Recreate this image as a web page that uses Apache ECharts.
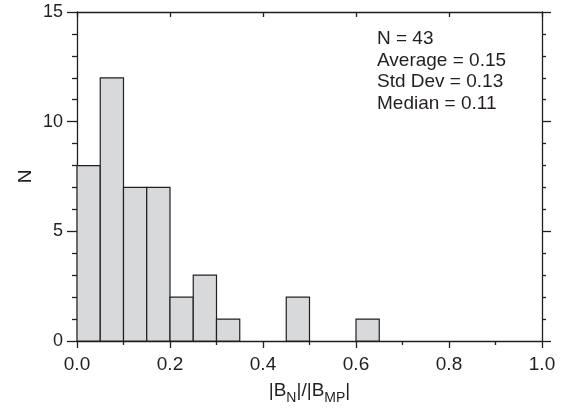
<!DOCTYPE html>
<html>
<head>
<meta charset="utf-8">
<script src="https://cdn.jsdelivr.net/npm/echarts@6/dist/echarts.min.js"></script>
<style>
html,body{margin:0;padding:0;background:#fff;}
#chart{width:564px;height:411px;}
</style>
</head>
<body>
<div id="chart"></div>
<script>
// ---- data ----
const binStarts = [0.00, 0.05, 0.10, 0.15, 0.20, 0.25, 0.30, 0.35, 0.40, 0.45, 0.50, 0.55, 0.60];
const counts    = [8,    12,   7,    7,    2,    3,    1,    0,    0,    2,    0,    0,    1];
const binWidth = 0.05;
const statLines = ['N = 43', 'Average = 0.15', 'Std Dev = 0.13', 'Median = 0.11'];
const yTicks = [0, 5, 10, 15];
const xTicks = [0.0, 0.2, 0.4, 0.6, 0.8, 1.0];

const FONT = '"Liberation Sans", Arial, Helvetica, sans-serif';
const INK = '#231f20';

const seriesData = binStarts.map((s, i) => [s, s + binWidth, counts[i]]);

const chart = echarts.init(document.getElementById('chart'), null, {renderer: 'canvas'});

const lineStyle = {color: INK, width: 1.3};

const option = {
  backgroundColor: '#ffffff',
  animation: false,
  grid: {left: 77, right: 22, top: 12, bottom: 70},
  xAxis: [
    {
      type: 'value', position: 'bottom', min: 0, max: 1, interval: 0.2,
      axisLine: {show: true, onZero: false, lineStyle: lineStyle},
      axisTick: {show: true, inside: false, length: 7, lineStyle: lineStyle},
      minorTick: {show: true, splitNumber: 2, length: 4, lineStyle: lineStyle},
      splitLine: {show: false},
      axisLabel: {
        margin: 14, color: INK, fontFamily: FONT, fontSize: 19,
        formatter: v => v.toFixed(1)
      },
      name: '{m||B}{s|N}{m||/|B}{s|MP}{m||}',
      nameLocation: 'middle', nameGap: 40,
      nameTextStyle: {
        fontFamily: FONT, color: INK,
        rich: {
          m: {fontFamily: FONT, fontSize: 19, color: INK, lineHeight: 24, verticalAlign: 'top'},
          s: {fontFamily: FONT, fontSize: 14, color: INK, lineHeight: 14, verticalAlign: 'bottom'}
        }
      }
    },
    {
      type: 'value', position: 'top', min: 0, max: 1, interval: 0.2,
      axisLine: {show: true, onZero: false, lineStyle: lineStyle},
      axisTick: {show: true, inside: true, length: 5, lineStyle: lineStyle},
      minorTick: {show: false},
      splitLine: {show: false},
      axisLabel: {show: false}
    }
  ],
  yAxis: [
    {
      type: 'value', position: 'left', min: 0, max: 15, interval: 5,
      axisLine: {show: true, onZero: false, lineStyle: lineStyle},
      axisTick: {show: true, inside: false, length: 10, lineStyle: lineStyle},
      minorTick: {show: true, splitNumber: 5, length: 5, lineStyle: lineStyle},
      splitLine: {show: false},
      axisLabel: {margin: 14, color: INK, fontFamily: FONT, fontSize: 18},
      name: 'N', nameLocation: 'middle', nameGap: 42, nameRotate: 90,
      nameMoveOverlap: false,
      nameTextStyle: {fontFamily: FONT, fontSize: 19, color: INK}
    },
    {
      type: 'value', position: 'right', min: 0, max: 15, interval: 5,
      axisLine: {show: true, onZero: false, lineStyle: lineStyle},
      axisTick: {show: true, inside: false, length: 9, lineStyle: lineStyle},
      minorTick: {show: true, splitNumber: 5, length: 4, lineStyle: lineStyle},
      splitLine: {show: false},
      axisLabel: {show: false}
    }
  ],
  series: [{
    type: 'custom',
    xAxisIndex: 0, yAxisIndex: 0,
    data: seriesData,
    encode: {x: [0, 1], y: 2},
    renderItem: function (params, api) {
      const x0 = api.value(0), x1 = api.value(1), c = api.value(2);
      if (!c) return null;
      const p0 = api.coord([x0, 0]);
      const p1 = api.coord([x1, c]);
      return {
        type: 'rect',
        shape: {x: p0[0], y: p1[1], width: p1[0] - p0[0], height: p0[1] - p1[1]},
        style: {fill: '#d8d9db', stroke: INK, lineWidth: 1.2}
      };
    },
    z: 1
  }],
  graphic: [{
    type: 'text',
    left: 377, top: 28,
    style: {
      text: statLines.join('\n'),
      fontFamily: FONT, fontSize: 19, lineHeight: 21.7,
      fill: INK
    }
  }]
};

chart.setOption(option);
</script>
</body>
</html>
